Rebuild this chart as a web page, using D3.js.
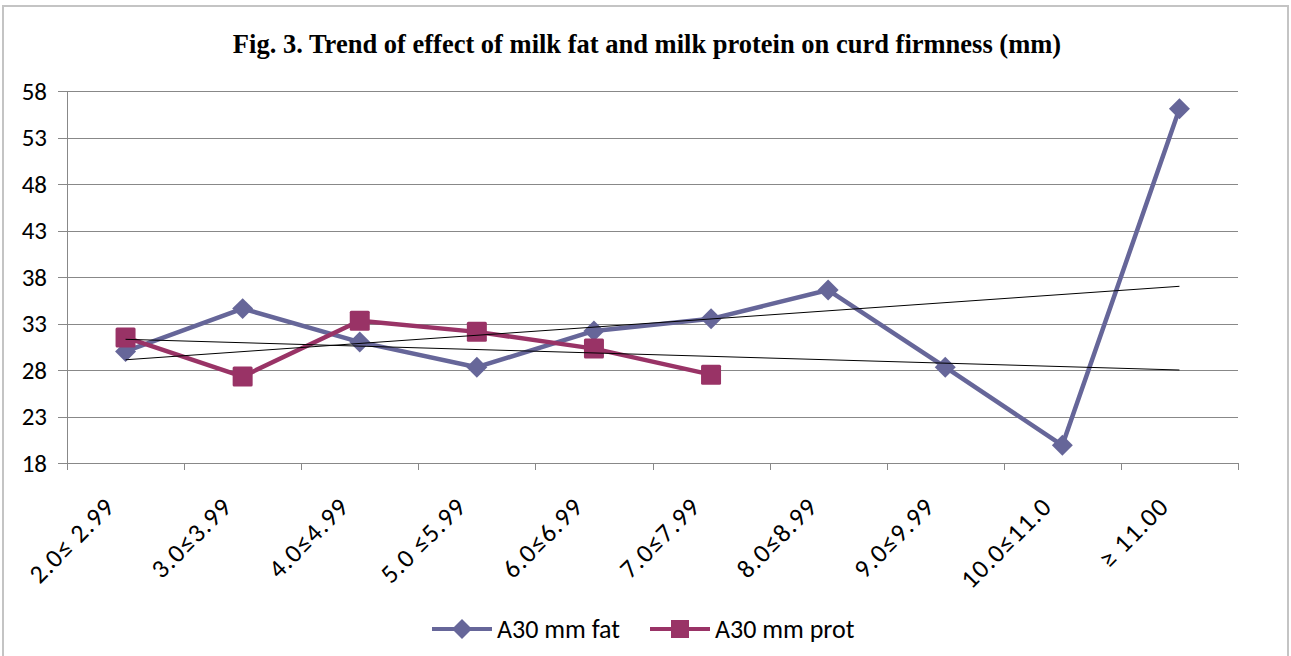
<!DOCTYPE html>
<html>
<head>
<meta charset="utf-8">
<script src="https://cdn.jsdelivr.net/npm/d3@7"></script>
<style>
  body { margin: 0; background: #fff; }
  svg { display: block; }
</style>
</head>
<body>
<div id="chart"></div>
<script>
// Data
const categories = ["2.0≤ 2.99", "3.0≤3.99", "4.0≤4.99", "5.0 ≤5.99", "6.0≤6.99",
  "7.0≤7.99", "8.0≤8.99", "9.0≤9.99", "10.0≤11.0", "≥ 11.00"];
const fatValues = [30.0, 34.6, 31.0, 28.3, 32.2, 33.5, 36.6, 28.3, 19.9, 56.1];
const protValues = [31.5, 27.3, 33.3, 32.1, 30.3, 27.5];
// linear trendlines, value at first and last category
const fatTrend = [29.1, 37.0];
const protTrend = [31.3, 28.0];
const yTicks = [18, 23, 28, 33, 38, 43, 48, 53, 58];
const seriesNames = ["A30 mm fat", "A30 mm prot"];

// Base variables
const w = 1291;
const h = 656;
const plotLeft = 67, plotRight = 1238, plotTop = 91, plotBottom = 463;
const fatColor = "#666699";
const protColor = "#993366";
const gridColor = "#888888";
const axisFont = "Carlito, Calibri, Lato, sans-serif";

const xScale = d3.scaleBand().domain(categories).range([plotLeft, plotRight]);
const cx = c => xScale(c) + xScale.bandwidth() / 2;
const yScale = d3.scaleLinear().domain([18, 58]).range([plotBottom, plotTop]);

const svg = d3.select("#chart")
  .append("svg")
  .attr("width", w)
  .attr("height", h);

// chart frame
svg.append("rect")
  .attr("x", 3).attr("y", 6)
  .attr("width", 1285).attr("height", 680)
  .attr("fill", "#fff")
  .attr("stroke", "#c4c4c4")
  .attr("stroke-width", 2);

// title
svg.append("text")
  .attr("x", 647)
  .attr("y", 53)
  .attr("text-anchor", "middle")
  .style("font-family", "'Liberation Serif', 'Times New Roman', serif")
  .style("font-weight", "bold")
  .style("font-size", "26.5px")
  .text("Fig. 3. Trend of effect of milk fat and milk protein on curd firmness (mm)");

// gridlines (extend past the axis as tick marks)
svg.append("g")
  .selectAll("line")
  .data(yTicks)
  .enter()
  .append("line")
  .attr("x1", plotLeft - 9)
  .attr("x2", plotRight)
  .attr("y1", d => Math.round(yScale(d)) + 0.5)
  .attr("y2", d => Math.round(yScale(d)) + 0.5)
  .attr("stroke", gridColor)
  .attr("stroke-width", 1);

// y-axis labels
const yAxis = d3.axisLeft(yScale).tickValues(yTicks).tickSize(0).tickPadding(20);
const yG = svg.append("g")
  .attr("transform", `translate(${plotLeft}, 0)`)
  .call(yAxis);
yG.select(".domain").remove();
yG.selectAll("text")
  .style("font-family", axisFont)
  .style("font-size", "25px")
  .attr("fill", "#000");

// y-axis line
svg.append("line")
  .attr("x1", plotLeft + 0.5).attr("x2", plotLeft + 0.5)
  .attr("y1", yScale(58)).attr("y2", plotBottom + 7)
  .attr("stroke", gridColor);

// x-axis category boundary ticks
const bounds = categories.map(c => xScale(c)).concat([xScale.range()[1]]);
svg.append("g")
  .selectAll("line")
  .data(bounds)
  .enter()
  .append("line")
  .attr("x1", d => Math.round(d) + 0.5)
  .attr("x2", d => Math.round(d) + 0.5)
  .attr("y1", plotBottom)
  .attr("y2", plotBottom + 7)
  .attr("stroke", gridColor);

// x-axis labels, rotated
svg.append("g")
  .selectAll("text")
  .data(categories)
  .enter()
  .append("text")
  .attr("transform", d => `translate(${cx(d) - 9}, ${plotBottom + 45}) rotate(-45)`)
  .attr("text-anchor", "end")
  .style("font-family", axisFont)
  .style("font-size", "26px")
  .style("letter-spacing", "1.2px")
  .text(d => d);

// series lines
const line = d3.line()
  .x((d, i) => cx(categories[i]))
  .y(d => yScale(d));

svg.append("path")
  .datum(fatValues)
  .attr("d", line)
  .attr("fill", "none")
  .attr("stroke", fatColor)
  .attr("stroke-width", 4.5)
  .attr("stroke-linejoin", "round");

svg.append("g")
  .selectAll("path")
  .data(fatValues)
  .enter()
  .append("path")
  .attr("d", d3.symbol(d3.symbolSquare, 220))
  .attr("transform", (d, i) => `translate(${cx(categories[i])}, ${yScale(d)}) rotate(45)`)
  .attr("fill", fatColor);

svg.append("path")
  .datum(protValues)
  .attr("d", line)
  .attr("fill", "none")
  .attr("stroke", protColor)
  .attr("stroke-width", 4.5)
  .attr("stroke-linejoin", "round");

svg.append("g")
  .selectAll("rect")
  .data(protValues)
  .enter()
  .append("rect")
  .attr("x", (d, i) => cx(categories[i]) - 10)
  .attr("y", d => yScale(d) - 10)
  .attr("width", 20)
  .attr("height", 20)
  .attr("rx", 1.5)
  .attr("fill", protColor);

// trendlines
const first = categories[0], last = categories[categories.length - 1];
[fatTrend, protTrend].forEach(t => {
  svg.append("line")
    .attr("x1", cx(first)).attr("y1", yScale(t[0]))
    .attr("x2", cx(last)).attr("y2", yScale(t[1]))
    .attr("stroke", "#000")
    .attr("stroke-width", 1);
});

// legend
const legendY = 629;
const legend = svg.append("g");
const legendX = [432, 650];

legend.selectAll("line")
  .data(seriesNames)
  .enter()
  .append("line")
  .attr("x1", (d, i) => legendX[i])
  .attr("x2", (d, i) => legendX[i] + 60)
  .attr("y1", legendY).attr("y2", legendY)
  .attr("stroke", (d, i) => i === 0 ? fatColor : protColor)
  .attr("stroke-width", 4);

legend.append("path")
  .attr("d", d3.symbol(d3.symbolSquare, 200))
  .attr("transform", `translate(${legendX[0] + 30}, ${legendY}) rotate(45)`)
  .attr("fill", fatColor);

legend.append("rect")
  .attr("x", legendX[1] + 30 - 9).attr("y", legendY - 9)
  .attr("width", 18).attr("height", 18)
  .attr("fill", protColor);

legend.selectAll("text")
  .data(seriesNames)
  .enter()
  .append("text")
  .attr("x", (d, i) => legendX[i] + 65)
  .attr("y", legendY)
  .attr("dominant-baseline", "central")
  .style("font-family", axisFont)
  .style("font-size", "26px")
  .text(d => d);
</script>
</body>
</html>
